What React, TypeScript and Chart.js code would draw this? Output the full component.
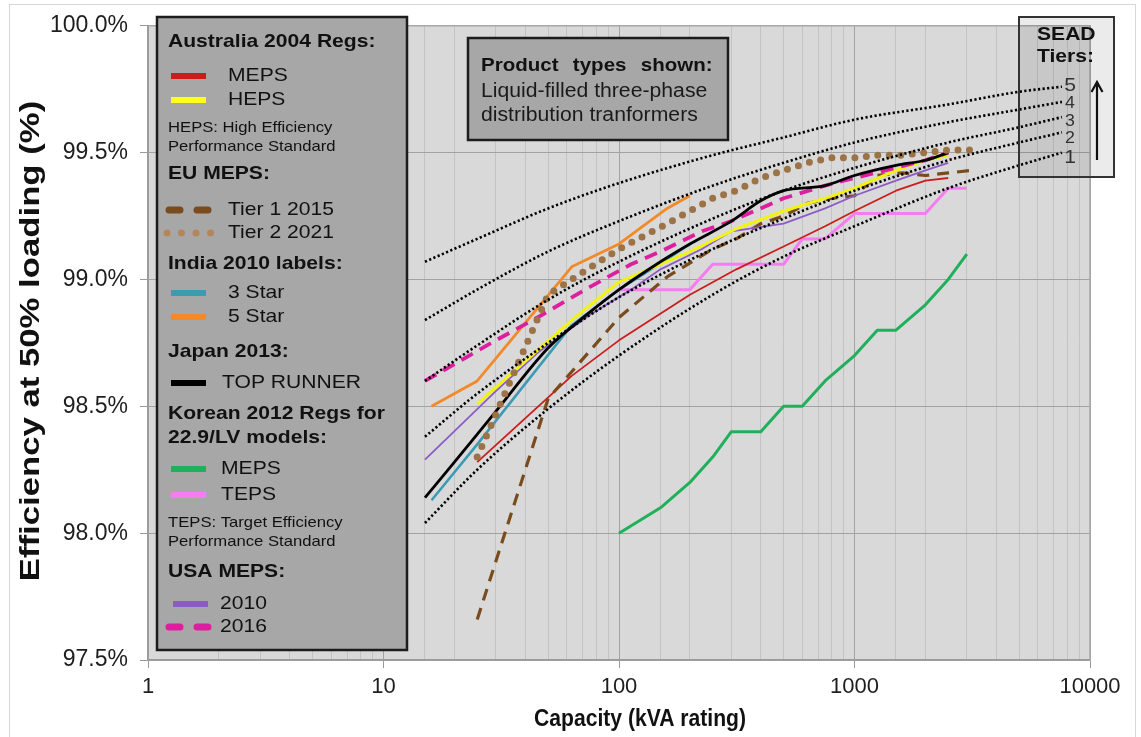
import React, { useEffect, useRef } from "react";
import { Chart, registerables } from "chart.js";

Chart.register(...registerables);

// ---------------- data ----------------
const xDecades = [1, 10, 100, 1000, 10000];
const yMin = 97.5;
const yMax = 100;
const yStep = 0.5;
const xTitle = "Capacity (kVA rating)";
const yTitle = "Efficiency at 50% loading (%)";

// SEAD tier curves
const tierKva = [15, 25, 50, 100, 250, 500, 1000, 2500, 5000, 7600];
const tier1 = [98.04, 98.25, 98.49, 98.70, 98.94, 99.09, 99.21, 99.36, 99.45, 99.50];
const tier2 = [98.38, 98.55, 98.75, 98.93, 99.12, 99.24, 99.35, 99.47, 99.54, 99.58];
const tier3 = [98.60, 98.74, 98.92, 99.07, 99.24, 99.35, 99.44, 99.54, 99.60, 99.64];
const tier4 = [98.84, 98.96, 99.11, 99.23, 99.37, 99.46, 99.54, 99.62, 99.67, 99.70];
const tier5 = [99.07, 99.16, 99.28, 99.38, 99.49, 99.56, 99.63, 99.69, 99.74, 99.76];

// Australia 2004
const auKva = [25, 63, 100, 200, 315, 500, 750, 1000, 1500, 2000, 2500];
const auMeps = [98.28, 98.62, 98.76, 98.94, 99.04, 99.13, 99.21, 99.27, 99.35, 99.39, 99.40];
const auHeps = [98.51, 98.84, 98.99, 99.11, 99.20, 99.27, 99.32, 99.36, 99.43, 99.47, 99.49];

// EU MEPS
const euKva = [25, 50, 100, 160, 250, 315, 400, 500, 630, 800, 1000, 1250, 1600, 2000, 2500, 3150];
const euTier1 = [97.66, 98.53, 98.85, 99.01, 99.12, 99.16, 99.22, 99.25, 99.30, 99.32, 99.33, 99.41, 99.42, 99.41, 99.42, 99.43];
const euTier2 = [98.30, 98.94, 99.12, 99.22, 99.32, 99.35, 99.40, 99.43, 99.46, 99.48, 99.48, 99.49, 99.49, 99.50, 99.51, 99.51];

// India 2010
const inKva = [16, 25, 63, 100, 160, 200];
const in3Star = [98.13, 98.35, 98.82, 98.96, 99.08, 99.14];
const in5Star = [98.50, 98.60, 99.05, 99.14, 99.28, 99.33];

// Japan 2013
const jpKva = [15, 20, 30, 50, 75, 100, 150, 200, 300, 400, 500, 750, 1000, 1500, 2000, 2500];
const jpTopRunner = [98.14, 98.28, 98.48, 98.73, 98.87, 98.96, 99.07, 99.14, 99.23, 99.31, 99.35, 99.37, 99.41, 99.45, 99.47, 99.50];

// Korea 2012
const krKva = [100, 150, 200, 250, 300, 400, 500, 600, 750, 1000, 1250, 1500, 2000, 2500, 3000];
const krMeps = [98.0, 98.1, 98.2, 98.3, 98.4, 98.4, 98.5, 98.5, 98.6, 98.7, 98.8, 98.8, 98.9, 99.0, 99.1];
const krTeps = [98.96, 98.96, 98.96, 99.06, 99.06, 99.06, 99.06, 99.16, 99.16, 99.26, 99.26, 99.26, 99.26, 99.36, 99.36];

// USA
const usKva = [15, 30, 45, 75, 112.5, 150, 225, 300, 500, 750, 1000, 1500, 2000, 2500];
const us2010 = [98.29, 98.56, 98.71, 98.86, 98.96, 99.04, 99.12, 99.19, 99.22, 99.28, 99.33, 99.39, 99.43, 99.46];
const us2016 = [98.60, 98.76, 98.85, 98.97, 99.06, 99.11, 99.19, 99.23, 99.32, 99.37, 99.40, 99.44, 99.47, 99.50];

const tierLabels = ["5", "4", "3", "2", "1"];

// ---------------- styles ----------------
const FONT = '"Liberation Sans", Arial, Helvetica, sans-serif';
const SX = 1.11; // horizontal stretch of box texts

type St = { color: string; width: number; dash?: number[]; cap?: CanvasLineCap };
const ST: Record<string, St> = {
  tier: { color: "#000000", width: 2.6, dash: [2.2, 2.4] },
  auMeps: { color: "#cc1d1d", width: 1.8 },
  auHeps: { color: "#f2f214", width: 3 },
  eu1: { color: "#7a4b1c", width: 3.2, dash: [12, 8] },
  eu2: { color: "#9c7247", width: 7, dash: [0, 11.5], cap: "round" },
  in3: { color: "#3b9ab4", width: 2.5 },
  in5: { color: "#f28a2a", width: 2.8 },
  jp: { color: "#000000", width: 2.8 },
  krMeps: { color: "#20b05c", width: 3 },
  krTeps: { color: "#f77cf0", width: 3 },
  us10: { color: "#8c5cc6", width: 1.8 },
  us16: { color: "#dd1f9f", width: 3.8, dash: [13, 8] },
};

const pts = (xs: number[], ys: number[]) => xs.map((x, i) => ({ x, y: ys[i] }));

function ds(label: string, xs: number[], ys: number[], s: St, smooth = false) {
  return {
    label,
    data: pts(xs, ys),
    borderColor: s.color,
    backgroundColor: s.color,
    borderWidth: s.width,
    borderDash: s.dash || [],
    borderCapStyle: s.cap || "butt",
    borderJoinStyle: "round",
    pointRadius: 0,
    fill: false,
    tension: smooth ? 0.4 : 0,
    cubicInterpolationMode: smooth ? "monotone" : "default",
  };
}

const isDecade = (v: any) => {
  if (typeof v !== "number" || v <= 0) return false;
  const l = Math.log10(v);
  return Math.abs(l - Math.round(l)) < 1e-9;
};

// ---------------- custom drawing ----------------
function line(ctx: CanvasRenderingContext2D, s: St, x1: number, x2: number, y: number, w?: number) {
  ctx.save();
  ctx.strokeStyle = s.color;
  ctx.lineWidth = w ?? s.width;
  ctx.setLineDash(s.dash || []);
  ctx.lineCap = s.cap || "butt";
  ctx.beginPath();
  ctx.moveTo(x1, y);
  ctx.lineTo(x2, y);
  ctx.stroke();
  ctx.restore();
}

function text(
  ctx: CanvasRenderingContext2D,
  t: string,
  x: number,
  y: number,
  font: string,
  color = "#111",
  align: CanvasTextAlign = "left",
  sx = SX,
  rot = 0,
  wordSpacing = "0px"
) {
  ctx.save();
  ctx.font = font;
  ctx.fillStyle = color;
  ctx.textAlign = align;
  ctx.textBaseline = "middle";
  (ctx as any).wordSpacing = wordSpacing;
  ctx.translate(x, y);
  if (rot) ctx.rotate(rot);
  ctx.scale(sx, 1);
  ctx.fillText(t, 0, 0);
  ctx.restore();
}

const decor = {
  id: "decor",
  beforeDraw(chart: any) {
    const { ctx, chartArea: a } = chart;
    ctx.save();
    ctx.fillStyle = "#ffffff";
    ctx.fillRect(0, 0, chart.width, chart.height);
    ctx.strokeStyle = "#d6d6d6";
    ctx.lineWidth = 1;
    ctx.strokeRect(9.5, 4.5, 1126, 740);
    ctx.fillStyle = "#d9d9d9";
    ctx.fillRect(a.left, a.top, a.right - a.left, a.bottom - a.top);
    ctx.restore();
  },
  beforeDatasetsDraw(chart: any) {
    const { ctx, chartArea: a } = chart;
    ctx.save();
    ctx.strokeStyle = "#a8a8a8";
    ctx.lineWidth = 1.5;
    ctx.beginPath();
    ctx.moveTo(a.left, a.top);
    ctx.lineTo(a.right, a.top);
    ctx.lineTo(a.right, a.bottom);
    ctx.stroke();
    // SEAD box fill (semi transparent)
    ctx.fillStyle = "rgba(0,0,0,0.08)";
    ctx.fillRect(1019, 17, 95, 160);
    ctx.restore();
  },
  afterDatasetsDraw(chart: any) {
    const { ctx } = chart;
    ctx.save();
    // ---- axis titles ----
    text(ctx, xTitle, 640, 719, `bold 24px ${FONT}`, "#111", "center", 0.88);
    text(ctx, yTitle, 31, 341, `bold 28px ${FONT}`, "#111", "center", 1.24, -Math.PI / 2);

    // ---- legend box ----
    ctx.fillStyle = "#a7a7a7";
    ctx.fillRect(157, 17, 250, 633);
    ctx.strokeStyle = "#1c1c1c";
    ctx.lineWidth = 2.5;
    ctx.strokeRect(157, 17, 250, 633);

    const H = `bold 19px ${FONT}`;
    const R = `19px ${FONT}`;
    const N = `15px ${FONT}`;
    text(ctx, "Australia 2004 Regs:", 168, 42, H);
    line(ctx, ST.auMeps, 171, 206, 76, 6);
    text(ctx, "MEPS", 228, 76, R);
    line(ctx, { color: "#ffff1a", width: 6 }, 171, 206, 100);
    text(ctx, "HEPS", 228, 100, R);
    text(ctx, "HEPS: High Efficiency", 168, 128, N);
    text(ctx, "Performance Standard", 168, 147, N);
    text(ctx, "EU MEPS:", 168, 174, H);
    line(ctx, { color: "#7a4b1c", width: 7, dash: [11, 17], cap: "round" }, 169, 210, 210);
    text(ctx, "Tier 1 2015", 228, 210, R);
    line(ctx, { color: "#b3875a", width: 7, dash: [0, 14.5], cap: "round" }, 167, 212, 233);
    text(ctx, "Tier 2 2021", 228, 233, R);
    text(ctx, "India 2010 labels:", 168, 264, H);
    line(ctx, { color: "#3b9ab4", width: 6 }, 171, 206, 293);
    text(ctx, "3 Star", 228, 293, R);
    line(ctx, { color: "#f28a2a", width: 6 }, 171, 206, 317);
    text(ctx, "5 Star", 228, 317, R);
    text(ctx, "Japan 2013:", 168, 352, H);
    line(ctx, { color: "#000000", width: 6 }, 171, 206, 383);
    text(ctx, "TOP RUNNER", 222, 383, R);
    text(ctx, "Korean 2012 Regs for", 168, 414, H);
    text(ctx, "22.9/LV models:", 168, 438, H);
    line(ctx, { color: "#20b05c", width: 6 }, 171, 206, 469);
    text(ctx, "MEPS", 221, 469, R);
    line(ctx, { color: "#f77cf0", width: 6 }, 171, 206, 495);
    text(ctx, "TEPS", 221, 495, R);
    text(ctx, "TEPS: Target Efficiency", 168, 523, N);
    text(ctx, "Performance Standard", 168, 542, N);
    text(ctx, "USA MEPS:", 168, 572, H);
    line(ctx, { color: "#8c5cc6", width: 6 }, 173, 208, 604);
    text(ctx, "2010", 220, 604, R);
    line(ctx, { color: "#dd1f9f", width: 7, dash: [11, 17], cap: "round" }, 169, 210, 627);
    text(ctx, "2016", 220, 627, R);

    // ---- product types box ----
    ctx.fillStyle = "#a7a7a7";
    ctx.fillRect(468, 38, 260, 102);
    ctx.strokeStyle = "#1c1c1c";
    ctx.lineWidth = 2.5;
    ctx.strokeRect(468, 38, 260, 102);
    text(ctx, "Product types shown:", 481, 66, `bold 19px ${FONT}`, "#111", "left", 1.08, 0, "8px");
    text(ctx, "Liquid-filled three-phase", 481, 91, `20px ${FONT}`, "#1a1a1a", "left", 1.06);
    text(ctx, "distribution tranformers", 481, 115, `20px ${FONT}`, "#1a1a1a", "left", 1.06);

    // ---- SEAD tiers box ----
    ctx.strokeStyle = "#333333";
    ctx.lineWidth = 2;
    ctx.strokeRect(1019, 17, 95, 160);
    text(ctx, "SEAD", 1037, 35, `bold 19px ${FONT}`);
    text(ctx, "Tiers:", 1037, 57, `bold 19px ${FONT}`);
    const ty = [86, 104, 122, 139, 158];
    tierLabels.forEach((t, i) => {
      const big = i === 0 || i === 4;
      text(ctx, t, 1070, ty[i], `${big ? 19 : 16}px ${FONT}`, "#333", "center");
    });
    ctx.strokeStyle = "#111";
    ctx.lineWidth = 2.2;
    ctx.beginPath();
    ctx.moveTo(1097, 160);
    ctx.lineTo(1097, 83);
    ctx.moveTo(1091.5, 92);
    ctx.lineTo(1097, 82);
    ctx.lineTo(1102.5, 92);
    ctx.stroke();
    ctx.restore();
  },
};

// ---------------- component ----------------
export default function App() {
  const ref = useRef<HTMLCanvasElement>(null);

  useEffect(() => {
    const datasets: any[] = [
      ds("Tier 5", tierKva, tier5, ST.tier, true),
      ds("Tier 4", tierKva, tier4, ST.tier, true),
      ds("Tier 3", tierKva, tier3, ST.tier, true),
      ds("Tier 2", tierKva, tier2, ST.tier, true),
      ds("Tier 1", tierKva, tier1, ST.tier, true),
      ds("EU Tier 2 2021", euKva, euTier2, ST.eu2),
      ds("Japan TOP RUNNER", jpKva, jpTopRunner, ST.jp, true),
      ds("USA 2016", usKva, us2016, ST.us16),
      ds("Australia HEPS", auKva, auHeps, ST.auHeps),
      ds("USA 2010", usKva, us2010, ST.us10),
      ds("EU Tier 1 2015", euKva, euTier1, ST.eu1),
      ds("India 3 Star", inKva, in3Star, ST.in3),
      ds("India 5 Star", inKva, in5Star, ST.in5),
      ds("Australia MEPS", auKva, auMeps, ST.auMeps),
      ds("Korea TEPS", krKva, krTeps, ST.krTeps),
      ds("Korea MEPS", krKva, krMeps, ST.krMeps),
    ];

    const chart = new Chart(ref.current as HTMLCanvasElement, {
      type: "line",
      data: { datasets },
      options: {
        responsive: false,
        animation: false,
        events: [],
        layout: { padding: { left: 0, right: 51, top: 21, bottom: 0 } },
        plugins: { legend: { display: false }, tooltip: { enabled: false } },
        scales: {
          x: {
            type: "logarithmic",
            min: xDecades[0],
            max: xDecades[xDecades.length - 1],
            afterFit: (s: any) => {
              s.height = 77;
            },
            grid: {
              color: (c: any) => (isDecade(c.tick && c.tick.value) ? "#a2a2a2" : "#c3c3c3"),
              lineWidth: 1,
              tickLength: 8,
              tickColor: (c: any) => (isDecade(c.tick && c.tick.value) ? "#9a9a9a" : "rgba(0,0,0,0)"),
            },
            border: { color: "#9a9a9a", width: 1.5 },
            ticks: {
              autoSkip: false,
              maxRotation: 0,
              minRotation: 0,
              padding: 6,
              color: "#1e1e1e",
              font: { family: FONT, size: 22 },
              callback: (v: any) => (xDecades.includes(Number(v)) ? String(v) : ""),
            },
            title: { display: false },
          },
          y: {
            type: "linear",
            min: yMin,
            max: yMax,
            afterFit: (s: any) => {
              s.width = 148;
            },
            grid: { color: "#a2a2a2", lineWidth: 1, tickLength: 8, tickColor: "#9a9a9a" },
            border: { color: "#9a9a9a", width: 1.5 },
            ticks: {
              stepSize: yStep,
              padding: 12,
              color: "#1e1e1e",
              font: { family: FONT, size: 23 },
              callback: (v: any) => Number(v).toFixed(1) + "%",
            },
            title: { display: false },
          },
        },
      },
      plugins: [decor],
    } as any);
    return () => chart.destroy();
  }, []);

  return (
    <div style={{ position: "absolute", left: 0, top: 0, width: 1141, height: 737 }}>
      <canvas ref={ref} width={1141} height={737} style={{ display: "block", width: 1141, height: 737 }} />
    </div>
  );
}
